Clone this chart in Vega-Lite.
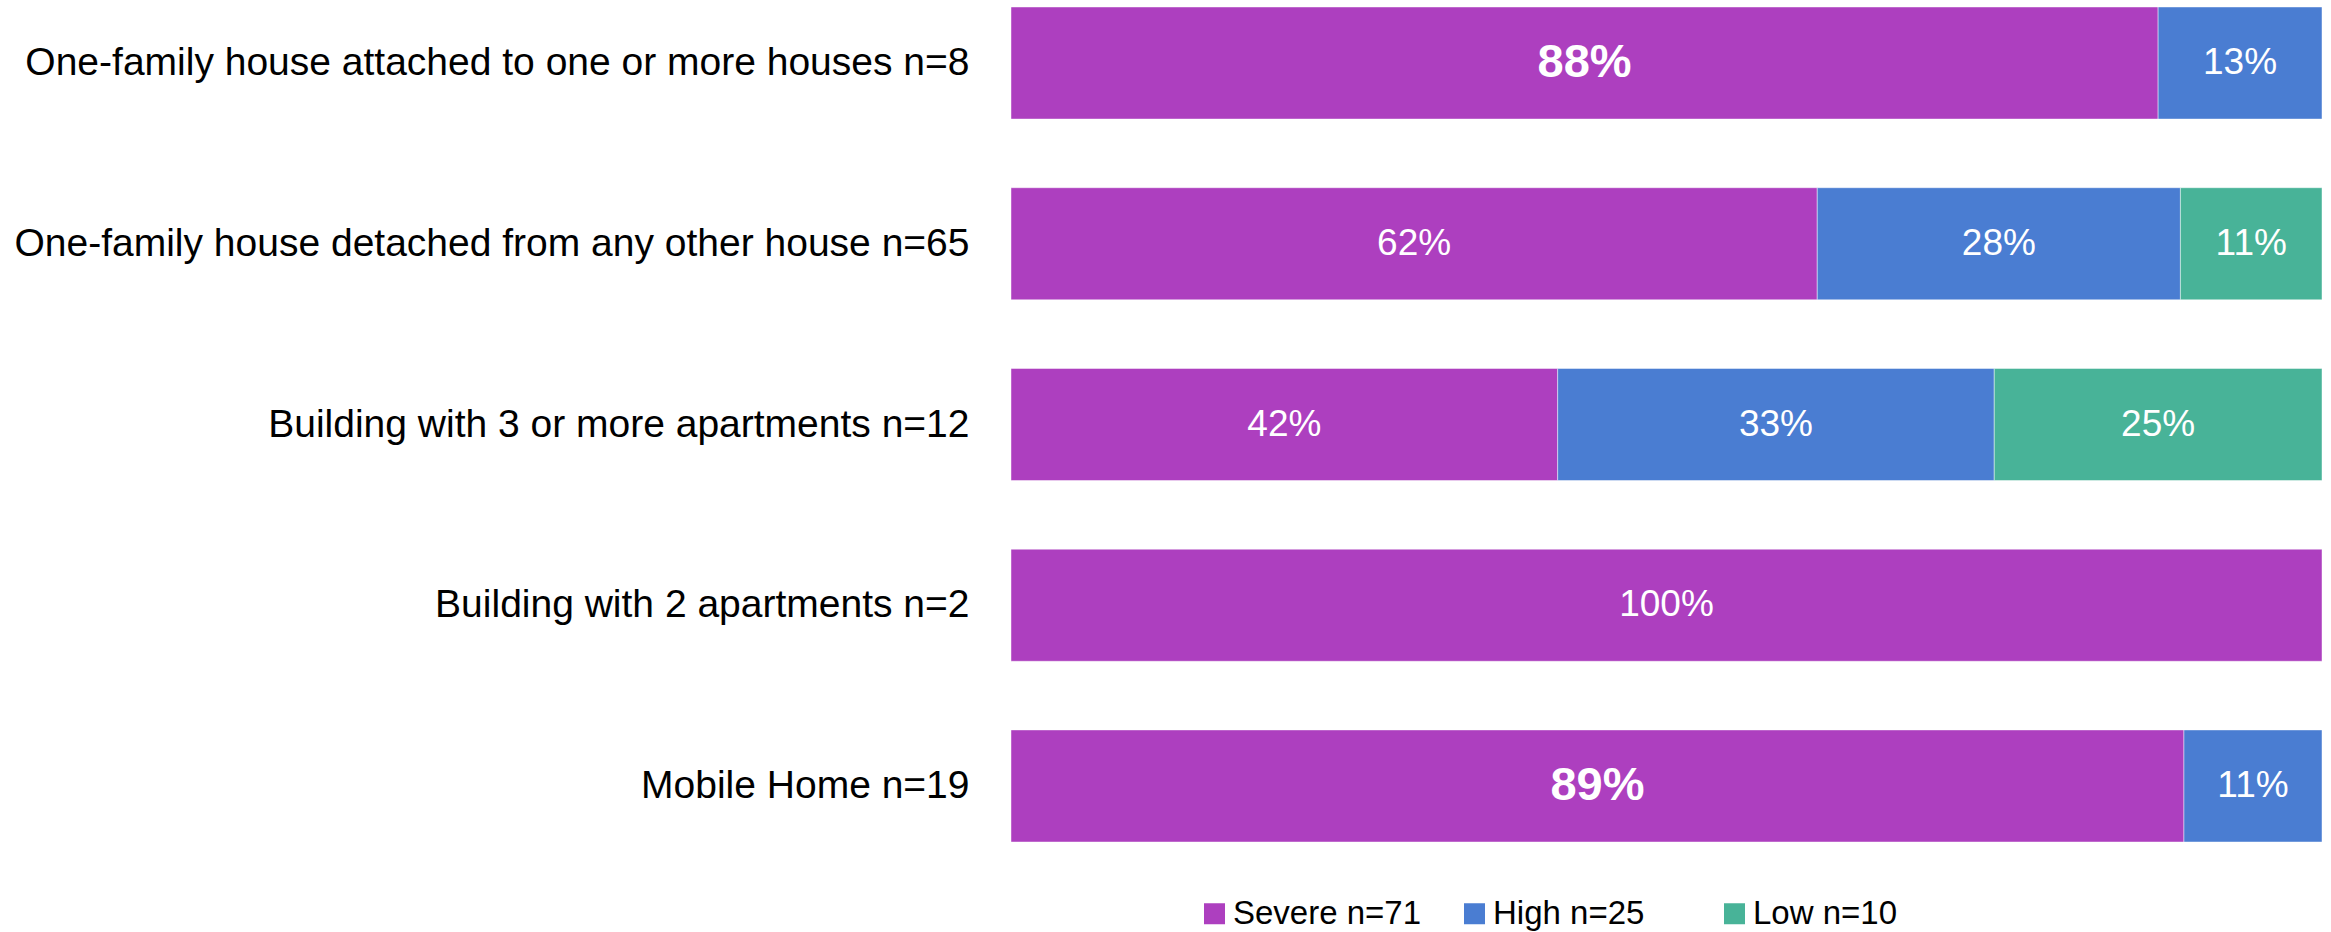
{
  "$schema": "https://vega.github.io/schema/vega-lite/v6.json",
  "autosize": "none",
  "padding": {"left": 1011, "top": 0, "right": 9, "bottom": 83},
  "width": 1311,
  "height": 849,
  "background": "#ffffff",
  "config": {
    "view": {"stroke": null},
    "font": "Liberation Sans"
  },
  "data": {
    "values": [
      {"type": "One-family house attached to one or more houses n=8", "level": "Severe n=71", "rank": 1, "pct": 0.875},
      {"type": "One-family house attached to one or more houses n=8", "level": "High n=25", "rank": 2, "pct": 0.125},
      {"type": "One-family house detached from any other house n=65", "level": "Severe n=71", "rank": 1, "pct": 0.615},
      {"type": "One-family house detached from any other house n=65", "level": "High n=25", "rank": 2, "pct": 0.277},
      {"type": "One-family house detached from any other house n=65", "level": "Low n=10", "rank": 3, "pct": 0.108},
      {"type": "Building with 3 or more apartments n=12", "level": "Severe n=71", "rank": 1, "pct": 0.417},
      {"type": "Building with 3 or more apartments n=12", "level": "High n=25", "rank": 2, "pct": 0.333},
      {"type": "Building with 3 or more apartments n=12", "level": "Low n=10", "rank": 3, "pct": 0.25},
      {"type": "Building with 2 apartments n=2", "level": "Severe n=71", "rank": 1, "pct": 1.0},
      {"type": "Mobile Home n=19", "level": "Severe n=71", "rank": 1, "pct": 0.8947},
      {"type": "Mobile Home n=19", "level": "High n=25", "rank": 2, "pct": 0.1053}
    ]
  },
  "encoding": {
    "y": {
      "field": "type",
      "type": "nominal",
      "sort": [
        "One-family house attached to one or more houses n=8",
        "One-family house detached from any other house n=65",
        "Building with 3 or more apartments n=12",
        "Building with 2 apartments n=2",
        "Mobile Home n=19"
      ],
      "scale": {"paddingInner": 0.38, "paddingOuter": 0.0387},
      "axis": {
        "title": null,
        "ticks": false,
        "domain": false,
        "grid": false,
        "labelFontSize": 39,
        "labelColor": "#000000",
        "labelPadding": 42,
        "labelLimit": 1000
      }
    },
    "x": {
      "field": "pct",
      "type": "quantitative",
      "stack": "zero",
      "scale": {"domain": [0, 1], "nice": false},
      "axis": null
    },
    "order": {"field": "rank", "type": "ordinal"}
  },
  "layer": [
    {
      "mark": {"type": "bar", "stroke": "#ffffff", "strokeWidth": 1, "strokeOpacity": 0.45},
      "encoding": {
        "color": {
          "field": "level",
          "type": "nominal",
          "sort": ["Severe n=71", "High n=25", "Low n=10"],
          "scale": {
            "domain": ["Severe n=71", "High n=25", "Low n=10"],
            "range": ["#AD3FBF", "#4A7DD2", "#48B398"]
          },
          "legend": {
            "title": null,
            "orient": "none",
            "direction": "horizontal",
            "legendX": 187,
            "legendY": 897,
            "padding": 0,
            "gridAlign": "all",
            "symbolType": "square",
            "symbolSize": 441,
            "symbolStrokeWidth": 0,
            "symbolOpacity": 1,
            "labelFontSize": 33,
            "labelColor": "#000000",
            "labelOffset": 2,
            "columnPadding": 36,
            "labelLimit": 400
          }
        }
      }
    },
    {
      "mark": {"type": "text", "color": "#ffffff", "fontSize": 37, "baseline": "middle", "align": "center"},
      "encoding": {
        "x": {"field": "pct", "type": "quantitative", "stack": "zero", "bandPosition": 0.5},
        "detail": {"field": "level"},
        "text": {
          "condition": {"test": "datum.pct < 0.85 || datum.pct >= 1", "field": "pct", "type": "quantitative", "format": ".0%"},
          "value": ""
        }
      }
    },
    {
      "mark": {"type": "text", "color": "#ffffff", "fontSize": 47, "fontWeight": "bold", "baseline": "middle", "align": "center"},
      "encoding": {
        "x": {"field": "pct", "type": "quantitative", "stack": "zero", "bandPosition": 0.5},
        "detail": {"field": "level"},
        "text": {
          "condition": {"test": "datum.pct >= 0.85 && datum.pct < 1", "field": "pct", "type": "quantitative", "format": ".0%"},
          "value": ""
        }
      }
    }
  ]
}
